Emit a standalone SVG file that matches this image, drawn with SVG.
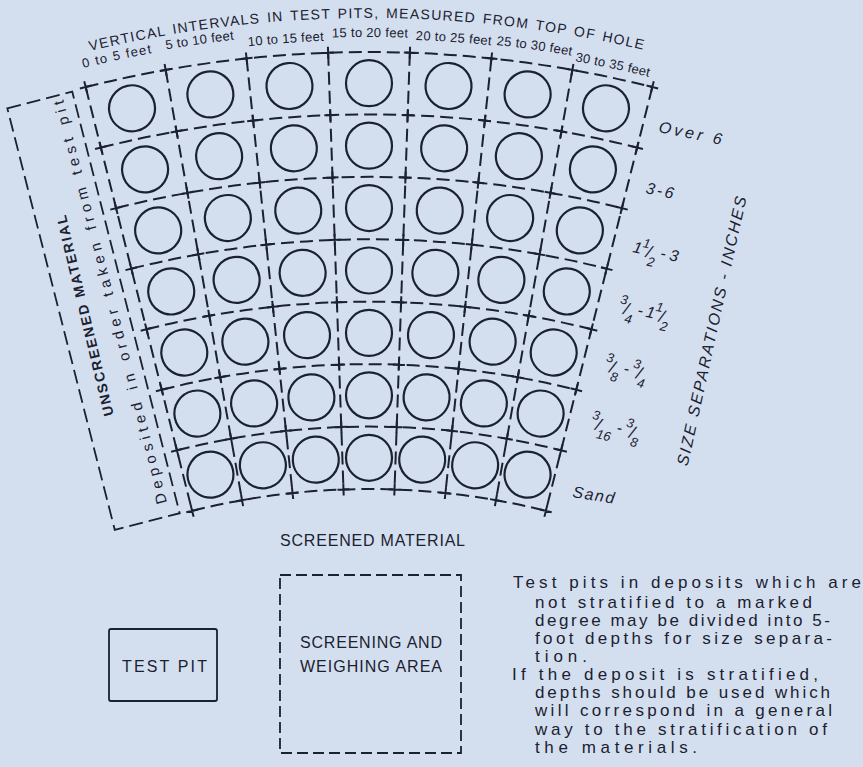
<svg xmlns="http://www.w3.org/2000/svg" width="863" height="767" viewBox="0 0 863 767">
<defs>
<style>
.bg{fill:#d3dfef}
.ln{fill:none;stroke:#1c2130;stroke-width:2;stroke-dasharray:13 6}
.dl{fill:none;stroke:#1c2130;stroke-width:1.8;stroke-dasharray:14 6}
.db{fill:none;stroke:#1c2130;stroke-width:1.8;stroke-dasharray:11 5}
.cr{fill:none;stroke:#1c2130;stroke-width:2}
.ci{fill:none;stroke:#1c2130;stroke-width:2.2}
.sb{fill:none;stroke:#1c2130;stroke-width:1.8}
text{font-family:"Liberation Sans",Arial,sans-serif;fill:#1c2130}
.hd{font-size:14px;letter-spacing:1.3px;word-spacing:1.5px}
.cl{font-size:13px;letter-spacing:0.3px}
.cap{font-size:16px}
.ttl{font-size:14px;font-weight:bold}
.sub{font-size:15px}
.lbl{font-size:16px;font-style:italic}
.fr{font-size:13px}
.sl{font-size:17px}
.nt{font-size:17px}
</style>
<path id="xs" d="M-6 -1163H6M0 -1169V-1157M-6 -1100.57H6M0 -1106.57V-1094.57M-6 -1038.14H6M0 -1044.14V-1032.14M-6 -975.71H6M0 -981.71V-969.71M-6 -913.28H6M0 -919.28V-907.28M-6 -850.85H6M0 -856.85V-844.85M-6 -788.42H6M0 -794.42V-782.42M-6 -726H6M0 -732V-720"/>
<line id="rad" x1="0" y1="-1163" x2="0" y2="-726"/>
<g id="cc">
<circle r="23" cy="-1131.79"/>
<circle r="23" cy="-1069.36"/>
<circle r="23" cy="-1006.93"/>
<circle r="23" cy="-944.5"/>
<circle r="23" cy="-882.07"/>
<circle r="23" cy="-819.64"/>
<circle r="23" cy="-757.21"/>
</g>
<path id="hdr" d="M39.06 64.37A1197 1197 0 0 1 698.94 64.37"/>
<path id="col" d="M44.02 81.67A1179 1179 0 0 1 693.98 81.67"/>
</defs>
<rect class="bg" x="0" y="0" width="863" height="767"/>

<g id="header">
<text class="hd"><textPath href="#hdr" startOffset="52.7">VERTICAL INTERVALS IN TEST PITS, MEASURED FROM TOP OF HOLE</textPath></text>
<text class="cl" dy="-3" style="letter-spacing:1.2px"><textPath href="#col" startOffset="41.4">0 to 5 feet</textPath></text>
<text class="cl" dy="-4"><textPath href="#col" startOffset="126.2">5 to 10 feet</textPath></text>
<text class="cl" dy="4"><textPath href="#col" startOffset="208">10 to 15 feet</textPath></text>
<text class="cl" dy="1"><textPath href="#col" startOffset="292.2">15 to 20 feet</textPath></text>
<text class="cl" dy="3"><textPath href="#col" startOffset="376">20 to 25 feet</textPath></text>
<text class="cl" dy="2"><textPath href="#col" startOffset="457">25 to 30 feet</textPath></text>
<text class="cl" dy="7"><textPath href="#col" startOffset="537.5">30 to 35 feet</textPath></text>
</g>

<g id="grid" transform="translate(369 1215)">
<g id="arcs" class="ln">
<path d="M-283.33 -1127.96A1163 1163 0 0 1 283.33 -1127.96"/>
<path d="M-268.12 -1067.41A1100.57 1100.57 0 0 1 268.12 -1067.41"/>
<path d="M-252.91 -1006.86A1038.14 1038.14 0 0 1 252.91 -1006.86"/>
<path d="M-237.7 -946.31A975.71 975.71 0 0 1 237.7 -946.31"/>
<path d="M-222.49 -885.77A913.28 913.28 0 0 1 222.49 -885.77"/>
<path d="M-207.28 -825.22A850.85 850.85 0 0 1 207.28 -825.22"/>
<path d="M-192.07 -764.67A788.42 788.42 0 0 1 192.07 -764.67"/>
<path d="M-176.86 -704.13A726 726 0 0 1 176.86 -704.13"/>
</g>
<g id="radials">
<g transform="rotate(-14.1)"><use href="#rad" class="ln"/><use href="#xs" class="cr"/></g>
<g transform="rotate(-10.071)"><use href="#rad" class="ln"/><use href="#xs" class="cr"/></g>
<g transform="rotate(-6.043)"><use href="#rad" class="ln"/><use href="#xs" class="cr"/></g>
<g transform="rotate(-2.014)"><use href="#rad" class="ln"/><use href="#xs" class="cr"/></g>
<g transform="rotate(2.014)"><use href="#rad" class="ln"/><use href="#xs" class="cr"/></g>
<g transform="rotate(6.043)"><use href="#rad" class="ln"/><use href="#xs" class="cr"/></g>
<g transform="rotate(10.071)"><use href="#rad" class="ln"/><use href="#xs" class="cr"/></g>
<g transform="rotate(14.1)"><use href="#rad" class="ln"/><use href="#xs" class="cr"/></g>
</g>
<g id="circles" class="ci">
<use href="#cc" transform="rotate(-12.086)"/>
<use href="#cc" transform="rotate(-8.057)"/>
<use href="#cc" transform="rotate(-4.029)"/>
<use href="#cc"/>
<use href="#cc" transform="rotate(4.029)"/>
<use href="#cc" transform="rotate(8.057)"/>
<use href="#cc" transform="rotate(12.086)"/>
</g>
</g>

<g id="unscreened">
<rect class="dl" transform="translate(93.5 310.75) rotate(-14.3)" x="-33.5" y="-217.5" width="67" height="435"/>
<text class="ttl" transform="translate(89.7 314.7) rotate(-103.5)" text-anchor="middle" textLength="206" lengthAdjust="spacing">UNSCREENED MATERIAL</text>
<text class="sub" transform="translate(115.1 301) rotate(-104.45)" text-anchor="middle" textLength="416" lengthAdjust="spacing">Deposited in order taken from test pit</text>
</g>

<g id="size-labels">
<text class="lbl" transform="translate(658 132) rotate(11.5)" textLength="64" lengthAdjust="spacing">Over 6</text>
<text class="lbl" transform="translate(645 193) rotate(12)" textLength="28" lengthAdjust="spacing">3-6</text>
<text class="lbl" transform="translate(632 252) rotate(12.5)">1<tspan class="fr" dy="-7">1</tspan><tspan class="sl" dy="9" dx="-2">/</tspan><tspan class="fr" dy="8" dx="-2">2</tspan><tspan dy="-10" dx="4">-</tspan><tspan dx="4">3</tspan></text>
<text class="lbl" transform="translate(618 311) rotate(12)"><tspan class="fr" dy="-8">3</tspan><tspan class="sl" dy="10" dx="-2">/</tspan><tspan class="fr" dy="8" dx="-2">4</tspan><tspan dy="-10" dx="4">-</tspan><tspan dx="3">1</tspan><tspan class="fr" dy="-8">1</tspan><tspan class="sl" dy="10" dx="-2">/</tspan><tspan class="fr" dy="8" dx="-2">2</tspan></text>
<text class="lbl" transform="translate(604 369) rotate(13)"><tspan class="fr" dy="-8">3</tspan><tspan class="sl" dy="10" dx="-2">/</tspan><tspan class="fr" dy="8" dx="-2">8</tspan><tspan dy="-10" dx="4">-</tspan><tspan class="fr" dy="-8" dx="3">3</tspan><tspan class="sl" dy="10" dx="-2">/</tspan><tspan class="fr" dy="8" dx="-2">4</tspan></text>
<text class="lbl" transform="translate(590 426.5) rotate(13)"><tspan class="fr" dy="-8">3</tspan><tspan class="sl" dy="10" dx="-2">/</tspan><tspan class="fr" dy="8" dx="-2">16</tspan><tspan dy="-10" dx="4">-</tspan><tspan class="fr" dy="-8" dx="3">3</tspan><tspan class="sl" dy="10" dx="-2">/</tspan><tspan class="fr" dy="8" dx="-2">8</tspan></text>
<text class="lbl" transform="translate(572 497) rotate(9)" textLength="42" lengthAdjust="spacing">Sand</text>
<text class="lbl" transform="translate(717 332.2) rotate(-77.65)" text-anchor="middle" textLength="275" lengthAdjust="spacing">SIZE SEPARATIONS - INCHES</text>
</g>

<g id="screened-label">
<text class="cap" x="280" y="546" textLength="185" lengthAdjust="spacing">SCREENED MATERIAL</text>
</g>

<g id="test-pit">
<rect class="sb" x="109" y="629" width="108" height="72" rx="2"/>
<text class="cap" x="122" y="672" textLength="85" lengthAdjust="spacing">TEST PIT</text>
</g>

<g id="screening-area">
<rect class="db" x="280" y="575" width="181" height="178"/>
<text class="cap" x="300" y="648" textLength="142" lengthAdjust="spacing">SCREENING AND</text>
<text class="cap" x="300" y="672" textLength="142" lengthAdjust="spacing">WEIGHING AREA</text>
</g>

<g id="note">
<text class="nt" x="513" y="588" textLength="348" lengthAdjust="spacing">Test pits in deposits which are</text>
<text class="nt" x="535" y="608" textLength="277" lengthAdjust="spacing">not stratified to a marked</text>
<text class="nt" x="535" y="626" textLength="295" lengthAdjust="spacing">degree may be divided into 5-</text>
<text class="nt" x="535" y="644" textLength="297" lengthAdjust="spacing">foot depths for size separa-</text>
<text class="nt" x="535" y="662" textLength="52" lengthAdjust="spacing">tion.</text>
<text class="nt" x="512" y="680" textLength="306" lengthAdjust="spacing">If the deposit is stratified,</text>
<text class="nt" x="535" y="698" textLength="295" lengthAdjust="spacing">depths should be used which</text>
<text class="nt" x="535" y="716" textLength="297" lengthAdjust="spacing">will correspond in a general</text>
<text class="nt" x="535" y="735" textLength="292" lengthAdjust="spacing">way to the stratification of</text>
<text class="nt" x="535" y="753" textLength="162" lengthAdjust="spacing">the materials.</text>
</g>
</svg>
